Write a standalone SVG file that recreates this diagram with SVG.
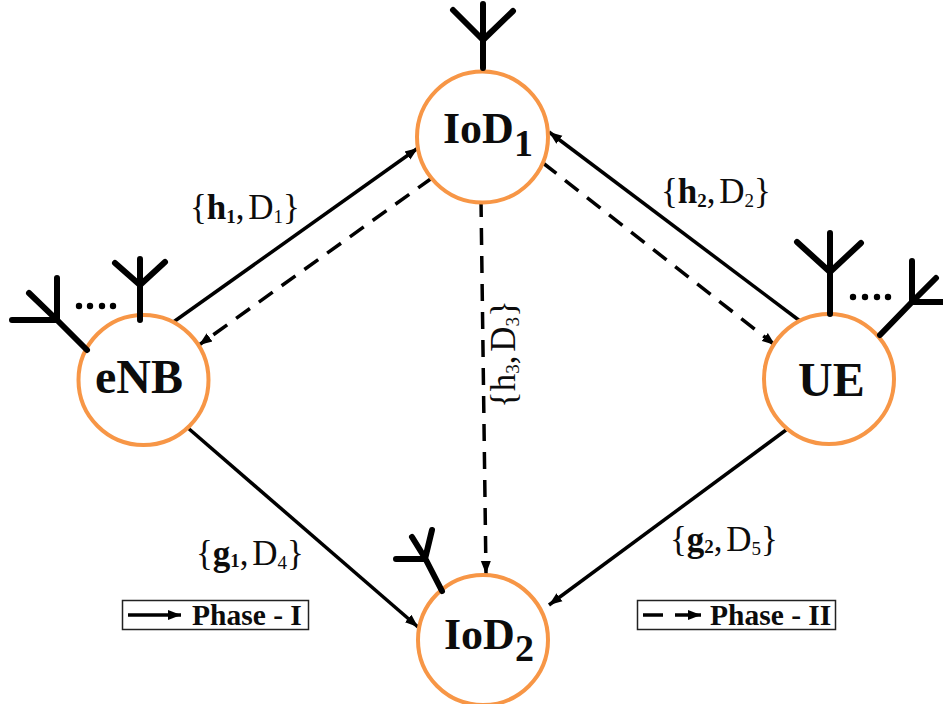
<svg xmlns="http://www.w3.org/2000/svg" width="943" height="704" viewBox="0 0 943 704">
<style>
text{font-family:"Liberation Serif","Times New Roman",serif;fill:#0c0c0c}
.n{fill:#fff;stroke:#f79646;stroke-width:4}
.a{fill:none;stroke:#000;stroke-width:6;stroke-linecap:round;stroke-linejoin:round}
.c{fill:none;stroke:#000;stroke-width:3.5}
.d{stroke-dasharray:17 11}
.t{font-weight:bold}
.l{font-size:35px;word-spacing:-5px}
.s{font-size:19px}
.b{font-weight:bold}
.p{font-size:29.500px;font-weight:bold}
.box{fill:#fff;stroke:#222;stroke-width:1.5}
</style>
<defs>
<marker id="ah" markerUnits="userSpaceOnUse" markerWidth="15" markerHeight="12" refX="13" refY="6" orient="auto"><path d="M0 1L13 6L0 11Z" fill="#000"/></marker>
</defs>
<g id="connectors">
<line class="c" x1="172" y1="323" x2="418" y2="148" marker-end="url(#ah)"/>
<line class="c d" x1="432" y1="178" x2="199" y2="345" marker-end="url(#ah)"/>
<line class="c" x1="800" y1="321" x2="549" y2="132" marker-end="url(#ah)"/>
<line class="c d" x1="543" y1="163" x2="775" y2="345" marker-end="url(#ah)"/>
<line class="c d" x1="481" y1="200" x2="486" y2="574" marker-end="url(#ah)"/>
<line class="c" x1="188" y1="428" x2="418" y2="627" marker-end="url(#ah)"/>
<line class="c" x1="786" y1="430" x2="549" y2="605" marker-end="url(#ah)"/>
</g>
<g id="IoD1">
<circle class="n" cx="482.500" cy="137" r="65.500"/>
<path class="a" d="M483 68V4M453 10L483 40L513 11"/>
<text class="t" x="443" y="143" font-size="44">IoD<tspan font-size="38" dy="13">1</tspan></text>
</g>
<g id="eNB">
<circle class="n" cx="143.500" cy="380" r="65"/>
<path class="a" d="M140 320V259M115 263L140 285L165 262M87 350L57 320L29 293M12 320H57V278"/>
<circle cx="79" cy="306" r="3.200"/><circle cx="90" cy="306" r="3.200"/><circle cx="102" cy="306" r="3.200"/><circle cx="113" cy="306" r="3.200"/>
<text class="t" x="95" y="393" font-size="48">eNB</text>
</g>
<g id="UE">
<circle class="n" cx="829" cy="379" r="65"/>
<path class="a" d="M830 314V233M797 242L830 272L861 243M880 335L912 302L936 278M912 261V302H943"/>
<circle cx="853" cy="297" r="3.200"/><circle cx="865" cy="297" r="3.200"/><circle cx="877" cy="297" r="3.200"/><circle cx="888" cy="297" r="3.200"/>
<text class="t" x="798" y="396" font-size="48">UE</text>
</g>
<g id="IoD2">
<circle class="n" cx="483" cy="640" r="65"/>
<path class="a" d="M442 591L425 558L412 537M396 559H425L432 530"/>
<text class="t" x="444" y="649" font-size="44">IoD<tspan font-size="38" dy="12">2</tspan></text>
</g>
<g id="labels">
<text class="l" x="190" y="219">{<tspan class="b">h</tspan><tspan class="s b" dy="4">1</tspan><tspan dy="-4">, D</tspan><tspan class="s" dy="4">1</tspan><tspan dy="-4">}</tspan></text>
<text class="l" x="661" y="203">{<tspan class="b">h</tspan><tspan class="s b" dy="4">2</tspan><tspan dy="-4">, D</tspan><tspan class="s" dy="4">2</tspan><tspan dy="-4">}</tspan></text>
<text class="l" x="196" y="565">{<tspan class="b">g</tspan><tspan class="s b" dy="2">1</tspan><tspan dy="-2">, D</tspan><tspan class="s" dy="4">4</tspan><tspan dy="-4">}</tspan></text>
<text class="l" x="670" y="551">{<tspan class="b">g</tspan><tspan class="s b" dy="2">2</tspan><tspan dy="-2">, D</tspan><tspan class="s" dy="4">5</tspan><tspan dy="-4">}</tspan></text>
<text class="l" transform="translate(515 408) rotate(-90)">{h<tspan class="s" dy="4">3</tspan><tspan dy="-4">, D</tspan><tspan class="s" dy="4">3</tspan><tspan dy="-4">}</tspan></text>
</g>
<g id="legend-phase-1">
<rect class="box" x="122.500" y="600.500" width="186" height="29"/>
<line class="c" x1="128" y1="615" x2="181" y2="615" marker-end="url(#ah)"/>
<text class="p" x="192" y="625">Phase - I</text>
</g>
<g id="legend-phase-2">
<rect class="box" x="637.500" y="600.500" width="198" height="29"/>
<line class="c" x1="643" y1="615" x2="663" y2="615"/>
<line class="c" x1="675" y1="615" x2="701" y2="615" marker-end="url(#ah)"/>
<text class="p" x="710" y="625">Phase - II</text>
</g>
</svg>
